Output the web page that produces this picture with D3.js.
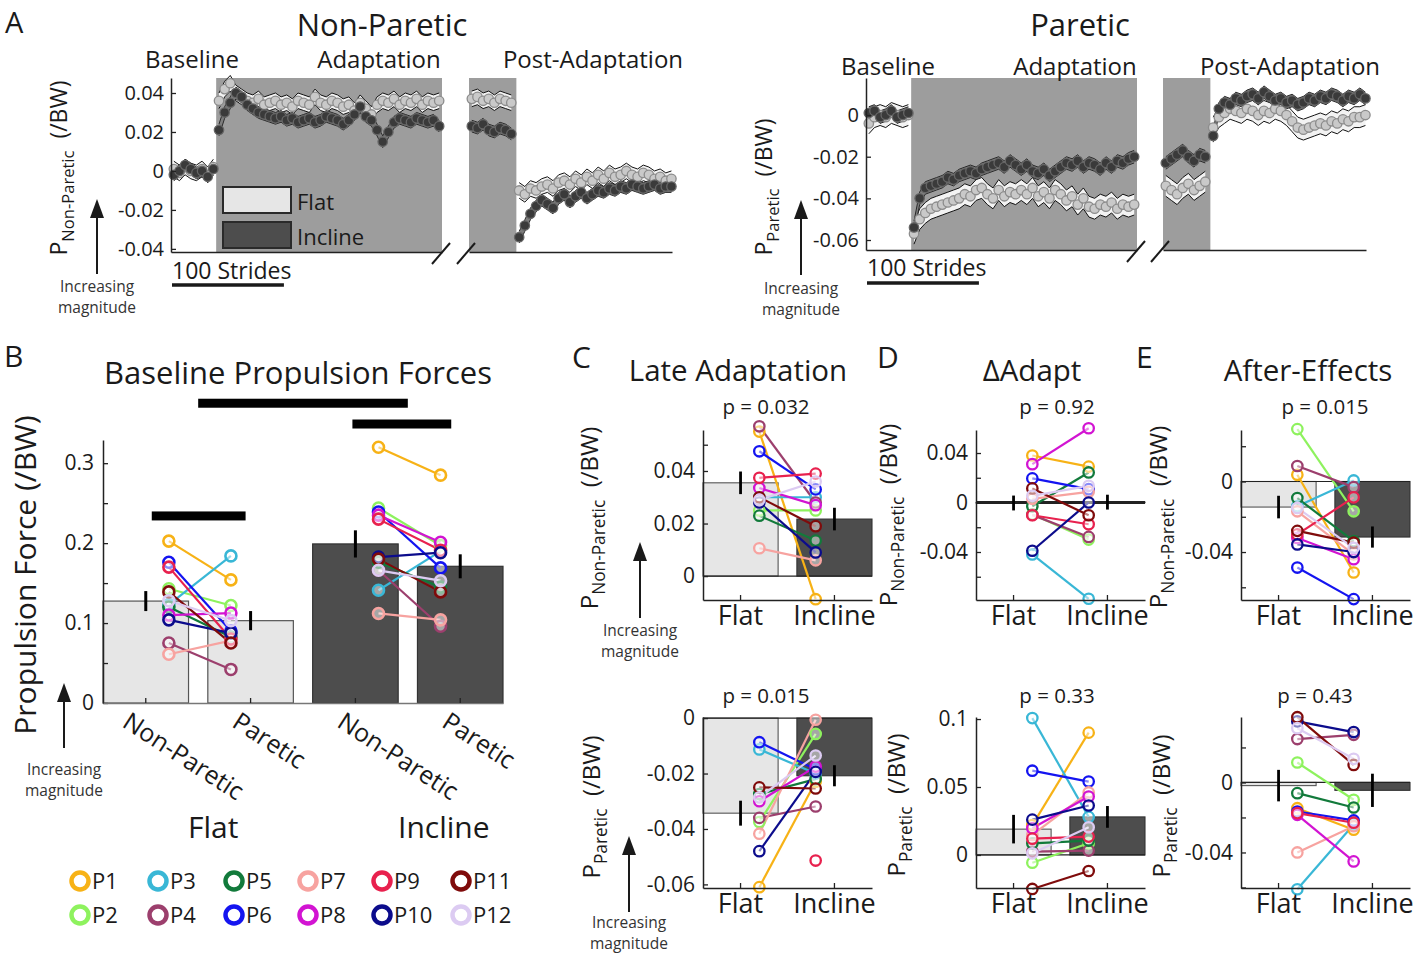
<!DOCTYPE html>
<html><head><meta charset="utf-8">
<script src="https://cdn.jsdelivr.net/npm/d3@7"></script>
<style>
body{margin:0;background:#fff;}
svg{display:block;font-family:"Open Sans",sans-serif;}
</style></head><body>
<svg id="chart" width="1418" height="955"></svg>
<script>
// ---------------- DATA ----------------
const participants = ["P1","P2","P3","P4","P5","P6","P7","P8","P9","P10","P11","P12"];
const participantColors = ["#f7b216","#8ef25e","#39b7d6","#9c3f6d","#127a3b","#1414f0","#f7a3a0","#d214d2","#e8214e","#0c0c8c","#7f0b0b","#dccbf2"];
const conditions = ["Flat","Incline"];
const phaseLabels = ["Baseline","Adaptation","Post-Adaptation"];

// Panel A: Non-Paretic time courses (every 5 strides)
const npBaselineFlat = [0.001,-0.001,0.002,0.000,-0.001,0.001,-0.002,0.002];
const npBaselineIncline = [-0.002,0.000,0.003,0.001,-0.001,0.000,-0.003,0.001];
const npAdaptFlat = [0.036,0.042,0.045,0.040,0.038,0.036,0.035,0.037,0.034,0.035,0.036,0.034,0.035,0.033,0.036,0.035,0.034,0.038,0.035,0.034,0.036,0.035,0.033,0.034,0.031,0.035,0.032,0.029,0.034,0.036,0.035,0.037,0.034,0.036,0.035,0.037,0.034,0.036,0.035,0.036];
const npAdaptIncline = [0.021,0.030,0.035,0.040,0.038,0.034,0.032,0.030,0.029,0.028,0.027,0.028,0.026,0.027,0.025,0.026,0.027,0.025,0.026,0.028,0.027,0.026,0.024,0.026,0.029,0.033,0.028,0.026,0.021,0.015,0.020,0.025,0.027,0.026,0.025,0.027,0.026,0.025,0.026,0.023];
const npLateFlat = [0.037,0.038,0.036,0.037,0.035,0.037,0.036,0.035];
const npLateIncline = [0.023,0.022,0.024,0.021,0.020,0.022,0.021,0.019];
const npPostFlat = [-0.010,-0.012,-0.009,-0.010,-0.008,-0.007,-0.009,-0.006,-0.005,-0.007,-0.004,-0.006,-0.003,-0.005,-0.002,-0.004,-0.001,-0.003,-0.002,0.000,-0.002,-0.003,-0.001,-0.002,-0.004,-0.003,-0.005,-0.004];
const npPostIncline = [-0.034,-0.028,-0.022,-0.018,-0.015,-0.017,-0.019,-0.014,-0.012,-0.016,-0.013,-0.011,-0.014,-0.012,-0.010,-0.011,-0.009,-0.010,-0.008,-0.009,-0.007,-0.008,-0.009,-0.008,-0.007,-0.009,-0.008,-0.008];
const npStdErr = [0.004, 0.003];
const npTicks = [-0.04,-0.02,0,0.02,0.04];

// Panel A: Paretic time courses
const pBaselineFlat = [-0.004,-0.001,0.000,-0.001,0.001,0.000,-0.001,0.000];
const pBaselineIncline = [0.001,0.002,-0.001,0.000,0.002,-0.001,0.000,0.001];
const pAdaptFlat = [-0.057,-0.050,-0.047,-0.045,-0.044,-0.043,-0.042,-0.041,-0.040,-0.038,-0.039,-0.036,-0.035,-0.038,-0.040,-0.036,-0.039,-0.037,-0.038,-0.036,-0.038,-0.035,-0.039,-0.037,-0.040,-0.036,-0.038,-0.041,-0.039,-0.043,-0.040,-0.044,-0.045,-0.043,-0.044,-0.042,-0.045,-0.043,-0.044,-0.043];
const pAdaptIncline = [-0.054,-0.040,-0.035,-0.034,-0.033,-0.032,-0.030,-0.031,-0.029,-0.028,-0.027,-0.028,-0.026,-0.025,-0.024,-0.023,-0.025,-0.022,-0.024,-0.026,-0.024,-0.027,-0.028,-0.026,-0.029,-0.027,-0.025,-0.023,-0.024,-0.022,-0.025,-0.023,-0.024,-0.026,-0.023,-0.025,-0.022,-0.023,-0.021,-0.020];
const pLateFlat = [-0.034,-0.036,-0.038,-0.035,-0.033,-0.036,-0.034,-0.032];
const pLateIncline = [-0.023,-0.021,-0.019,-0.017,-0.020,-0.022,-0.019,-0.020];
const pPostFlat = [-0.006,-0.001,0.001,0.003,0.002,0.001,0.003,0.002,0.000,0.002,0.001,0.003,0.002,0.000,-0.003,-0.006,-0.007,-0.006,-0.005,-0.004,-0.005,-0.003,-0.004,-0.002,-0.003,-0.001,-0.001,0.000];
const pPostIncline = [-0.010,0.003,0.006,0.005,0.008,0.007,0.009,0.010,0.008,0.011,0.009,0.007,0.008,0.006,0.007,0.005,0.006,0.008,0.007,0.009,0.008,0.010,0.009,0.007,0.009,0.008,0.010,0.008];
const pStdErr = [0.005, 0.003];
const pTicks = [-0.06,-0.04,-0.02,0];

// Panel B
const bBars = ["Flat Non-Paretic","Flat Paretic","Incline Non-Paretic","Incline Paretic"];
const bTickLabels = ["Non-Paretic","Paretic","Non-Paretic","Paretic"];
const bMeans = [0.1275,0.103,0.199,0.171];
const bErrors = [0.0125,0.012,0.017,0.015];
const bFlatNonParetic = [0.2025,0.143,0.123,0.075,0.120,0.176,0.061,0.110,0.170,0.104,0.139,0.128];
const bFlatParetic = [0.154,0.122,0.184,0.042,0.0825,0.090,0.078,0.1125,0.080,0.0875,0.075,0.103];
const bInclineNonParetic = [0.320,0.244,0.141,0.166,0.176,0.239,0.112,0.235,0.230,0.1825,0.180,0.166];
const bInclineParetic = [0.285,0.197,0.190,0.096,0.145,0.169,0.104,0.201,0.191,0.188,0.139,0.153];
const bTicks = [0,0.05,0.1,0.15,0.2,0.25,0.3];
const bLabeledTicks = [0,0.1,0.2,0.3];
const bSigLevels = [0.375,0.349,0.234];

// Panel C: Late Adaptation
const lateNPFlat = [0.055,0.025,0.030,0.057,0.023,0.0475,0.0106,0.0335,0.0374,0.028,0.030,0.029];
const lateNPIncline = [-0.0088,0.025,0.030,0.028,0.0135,0.033,0.006,0.027,0.039,0.009,0.019,0.036];
const lateNPMeans = [0.0355,0.0217];
const lateNPErr = [0.0043,0.0043];
const latePFlat = [-0.061,-0.0375,-0.0113,-0.036,-0.0274,-0.0087,-0.0417,-0.030,null,-0.048,-0.025,-0.0286];
const latePIncline = [-0.023,-0.0057,-0.020,-0.0319,-0.022,-0.0185,-0.0006,-0.0175,-0.0514,-0.0194,-0.0254,-0.0135];
const latePMeans = [-0.0343,-0.0208];
const latePErr = [0.0045,0.0038];

// Panel D: Delta Adapt
const dNPFlat = [0.038,-0.0095,-0.042,-0.010,-0.003,0.0195,0.003,0.031,-0.0103,-0.039,0.0114,0.0054];
const dNPIncline = [0.029,-0.030,-0.0778,-0.0278,0.0243,0.0108,0.0086,0.060,-0.0176,0.000,-0.0103,0.0135];
const dNPMeans = [-0.0004,0.0003];
const dNPErr = [0.006,0.006];
const dPFlat = [0.022,-0.0057,0.1007,0.0025,0.0086,0.062,0.0147,0.0197,0.012,0.026,-0.025,0.0012];
const dPIncline = [0.090,0.0086,0.028,0.0032,0.0106,0.054,0.046,0.043,0.0135,0.0364,-0.0118,0.0204];
const dPMeans = [0.019,0.028];
const dPErr = [0.0105,0.008];

// Panel E: After-Effects
const eNPFlat = [0.0038,0.0297,-0.014,0.0088,-0.0094,-0.0488,-0.0169,-0.032,-0.030,-0.0357,-0.028,-0.015];
const eNPIncline = [-0.0516,-0.0169,0.0006,-0.0032,-0.0338,-0.0667,-0.0413,-0.0441,-0.009,-0.040,-0.0347,-0.0376];
const eNPMeans = [-0.0145,-0.0315];
const eNPErr = [0.0064,0.006];
const ePFlat = [-0.0147,0.0114,-0.061,0.0248,-0.0061,-0.0166,-0.040,-0.0185,-0.0175,0.0349,0.0373,0.031];
const ePIncline = [-0.027,-0.0099,-0.024,0.0272,-0.0143,-0.0217,-0.025,-0.0451,-0.023,0.0288,0.010,0.0135];
const ePMeans = [-0.0018,-0.0045];
const ePErr = [0.009,0.0095];

// ---------------- DRAWING ----------------
const svg = d3.select("#chart");
const INK = "#1a1a1a";
const LIGHT = "#e6e6e6", DARK = "#4d4d4d";

function txt(x, y, s, size, anchor){
  return svg.append("text").attr("x",x).attr("y",y).attr("font-size",size)
    .attr("text-anchor",anchor||"start").attr("fill",INK).text(s);
}
function pLabel(x, y, sub, size){
  const t = svg.append("text").attr("transform",`translate(${x},${y}) rotate(-90)`)
    .attr("text-anchor","middle").attr("font-size",size).attr("fill",INK);
  t.append("tspan").text("P");
  t.append("tspan").attr("font-size",size*0.72).attr("dy",size*0.3).text(sub);
  t.append("tspan").attr("dy",-size*0.3).text("\u00a0\u00a0(/BW)");
}
function magArrow(x, yTip, yBase, ty){
  svg.append("line").attr("x1",x).attr("x2",x).attr("y1",yBase).attr("y2",yTip+12)
    .attr("stroke",INK).attr("stroke-width",2);
  svg.append("path").attr("d",`M${x},${yTip}L${x-7},${yTip+19}L${x+7},${yTip+19}Z`).attr("fill",INK);
  txt(x, ty, "Increasing", 15.5, "middle").attr("fill","#333");
  txt(x, ty+21, "magnitude", 15.5, "middle").attr("fill","#333");
}
function styleAxis(g, fs){
  g.attr("font-family",null).attr("font-size",fs);
  g.selectAll("path.domain").attr("stroke","#222").attr("stroke-width",1.5);
  g.selectAll(".tick line").attr("stroke","#222").attr("stroke-width",1.3);
  g.selectAll(".tick text").attr("fill",INK);
}

// ---- Panel A ----
function timePanel(o){
  const g = svg.append("g");
  const y = d3.scaleLinear().domain(o.yDomain).range([o.yBottom, o.yTop]);
  const x1 = d3.scaleLinear().domain([0,240]).range(o.seg1);
  const x2 = d3.scaleLinear().domain([0,180]).range(o.seg2);
  const H = o.yBottom - o.yTop;
  g.append("rect").attr("x",x1(40)).attr("y",o.yTop).attr("width",x1(240)-x1(40)).attr("height",H).attr("fill","#9d9d9d");
  g.append("rect").attr("x",x2(0)).attr("y",o.yTop).attr("width",x2(42)-x2(0)).attr("height",H).attr("fill","#9d9d9d");
  const segs = [
    {x:x1, s0:2.5, f:o.baseFlat, i:o.baseIncl},
    {x:x1, s0:42.5, f:o.adaptFlat, i:o.adaptIncl},
    {x:x2, s0:2.5, f:o.lateFlat, i:o.lateIncl},
    {x:x2, s0:44.5, f:o.postFlat, i:o.postIncl}];
  const styles = [
    {key:"f", se:o.se[0], band:"#f3f3f3", edge:"#111", fill:"#c9c9c9", stroke:"#8c8c8c"},
    {key:"i", se:o.se[1], band:"#7d7d7d", edge:"#2a2a2a", fill:"#3a3a3a", stroke:"#666"}];
  styles.forEach(st=>{
    segs.forEach(sg=>{
      const pts = sg[st.key].map((v,k)=>({s:sg.s0+5*k, v}));
      const area = d3.area().x(d=>sg.x(d.s)).y0(d=>y(d.v-st.se)).y1(d=>y(d.v+st.se));
      g.append("path").attr("d",area(pts)).attr("fill",st.band);
      const lU = d3.line().x(d=>sg.x(d.s)).y(d=>y(d.v+st.se));
      const lL = d3.line().x(d=>sg.x(d.s)).y(d=>y(d.v-st.se));
      g.append("path").attr("d",lU(pts)).attr("fill","none").attr("stroke",st.edge).attr("stroke-width",1);
      g.append("path").attr("d",lL(pts)).attr("fill","none").attr("stroke",st.edge).attr("stroke-width",1);
    });
  });
  styles.forEach(st=>{
    segs.forEach(sg=>{
      const pts = sg[st.key].map((v,k)=>({s:sg.s0+5*k, v}));
      g.append("g").selectAll("circle").data(pts).join("circle")
        .attr("cx",d=>sg.x(d.s)).attr("cy",d=>y(d.v)).attr("r",4.7)
        .attr("fill",st.fill).attr("stroke",st.stroke).attr("stroke-width",1.3);
    });
  });
  const ya = g.append("g").attr("transform",`translate(${o.seg1[0]},0)`)
    .call(d3.axisLeft(y).tickValues(o.ticks).tickFormat(d=>String(d)).tickSizeInner(-5).tickSizeOuter(0).tickPadding(7));
  styleAxis(ya, 20);
  const xa1 = g.append("g").attr("transform",`translate(0,${o.yBottom})`).call(d3.axisBottom(x1).tickValues([]).tickSizeOuter(0));
  const xa2 = g.append("g").attr("transform",`translate(0,${o.yBottom})`).call(d3.axisBottom(x2).tickValues([]).tickSizeOuter(0));
  styleAxis(xa1,20); styleAxis(xa2,20);
  [[x1(240)-10, x1(240)+8],[x2(0)-12, x2(0)+6]].forEach(([a,b])=>{
    g.append("line").attr("x1",a).attr("y1",o.yBottom+12).attr("x2",b).attr("y2",o.yBottom-9)
      .attr("stroke",INK).attr("stroke-width",2);
  });
  g.append("line").attr("x1",x1(0)+1).attr("x2",x1(100)).attr("y1",o.yBottom+o.barDy).attr("y2",o.yBottom+o.barDy)
    .attr("stroke",INK).attr("stroke-width",3.5);
  txt(x1(0)+1, o.yBottom+o.textDy, "100 Strides", 23);
  phaseLabels.forEach((p,i)=> txt(o.phaseX[i], o.phaseY, p, 24, "middle"));
  txt(o.titleX, 36, o.title, 31, "middle");
}

timePanel({yDomain:[-0.0416,0.0477], yTop:78, yBottom:252, seg1:[171,442], seg2:[469,672],
  baseFlat:npBaselineFlat, baseIncl:npBaselineIncline, adaptFlat:npAdaptFlat, adaptIncl:npAdaptIncline,
  lateFlat:npLateFlat, lateIncl:npLateIncline, postFlat:npPostFlat, postIncl:npPostIncline,
  se:npStdErr, ticks:npTicks, barDy:33, textDy:27, phaseX:[192,379,593], phaseY:68,
  title:"Non-Paretic", titleX:382});
timePanel({yDomain:[-0.0648,0.0178], yTop:78, yBottom:250, seg1:[866,1137], seg2:[1163,1366],
  baseFlat:pBaselineFlat, baseIncl:pBaselineIncline, adaptFlat:pAdaptFlat, adaptIncl:pAdaptIncline,
  lateFlat:pLateFlat, lateIncl:pLateIncline, postFlat:pPostFlat, postIncl:pPostIncline,
  se:pStdErr, ticks:pTicks, barDy:33, textDy:26, phaseX:[888,1075,1290], phaseY:75,
  title:"Paretic", titleX:1080});

conditions.forEach((c,i)=>{
  svg.append("rect").attr("x",223).attr("y",187+i*35).attr("width",68).attr("height",26)
    .attr("fill",i?DARK:LIGHT).attr("stroke","#2a2a2a").attr("stroke-width",2);
  txt(297, 210+i*35, c, 22);
});
txt(5, 33, "A", 29);
pLabel(67, 168, "Non-Paretic", 23);
pLabel(772, 187, "Paretic", 23);
magArrow(97, 199, 274, 292);
magArrow(801, 200, 275, 294);

// ---- Panel B ----
(function(){
  const y = d3.scaleLinear().domain([0,0.329]).range([703,440]);
  const x = d3.scaleBand().domain(bBars).range([103,503]).paddingInner(0.184);
  const bw = x.bandwidth();
  const g = svg.append("g");
  g.selectAll("rect").data(bMeans).join("rect")
    .attr("x",(d,i)=>x(bBars[i])).attr("width",bw).attr("y",d=>y(d)).attr("height",d=>y(0)-y(d))
    .attr("fill",(d,i)=>i<2?LIGHT:DARK).attr("stroke",(d,i)=>i<2?"#555":"#333").attr("stroke-width",1.2);
  const cx = i => x(bBars[i]) + bw/2;
  g.selectAll("line.err").data(bMeans).join("line").attr("class","err")
    .attr("x1",(d,i)=>cx(i)).attr("x2",(d,i)=>cx(i))
    .attr("y1",(d,i)=>y(d-bErrors[i])).attr("y2",(d,i)=>y(d+bErrors[i]))
    .attr("stroke","#000").attr("stroke-width",3);
  const px = i => x(bBars[i]) + bw*(i%2===0?0.77:0.27);
  const sets = [bFlatNonParetic,bFlatParetic,bInclineNonParetic,bInclineParetic];
  [[0,1],[2,3]].forEach(([a,b])=>{
    participants.forEach((p,k)=>{
      g.append("line").attr("x1",px(a)).attr("y1",y(sets[a][k])).attr("x2",px(b)).attr("y2",y(sets[b][k]))
        .attr("stroke",participantColors[k]).attr("stroke-width",2.2);
    });
  });
  sets.forEach((arr,i)=>{
    g.append("g").selectAll("circle").data(arr).join("circle")
      .attr("cx",px(i)).attr("cy",d=>y(d)).attr("r",5.5)
      .attr("fill","#fff").attr("fill-opacity",0.5)
      .attr("stroke",(d,k)=>participantColors[k]).attr("stroke-width",2.6);
  });
  const sig = [[ (cx(0)+cx(1))/2, (cx(2)+cx(3))/2 ], [cx(2)-3, cx(3)-9], [cx(0)+6, cx(1)-5]];
  sig.forEach(([a,b],i)=>{
    g.append("rect").attr("x",a).attr("width",b-a).attr("y",y(bSigLevels[i])-4.5).attr("height",9).attr("fill","#000");
  });
  const ya = g.append("g").attr("transform","translate(103,0)")
    .call(d3.axisLeft(y).tickValues(bTicks).tickFormat(d=>bLabeledTicks.includes(d)?String(d):"")
      .tickSizeInner(-5).tickSizeOuter(0).tickPadding(9));
  styleAxis(ya, 21);
  const xa = g.append("g").attr("transform","translate(0,703)")
    .call(d3.axisBottom(x).tickFormat("").tickSizeInner(-5).tickSizeOuter(0));
  styleAxis(xa, 21);
  xa.selectAll("path.domain").attr("stroke","#777");
  bTickLabels.forEach((s,i)=>{
    svg.append("text").attr("transform",`translate(${cx(i)-(i===0?13:8)},708) rotate(33)`)
      .attr("font-size",25).attr("fill",INK).attr("dominant-baseline","hanging").text(s);
  });
  txt((x(bBars[0])+x(bBars[1])+bw)/2+15, 838, "Flat", 30, "middle");
  txt((x(bBars[2])+x(bBars[3])+bw)/2+36, 838, "Incline", 30, "middle");
  txt(298, 384, "Baseline Propulsion Forces", 31, "middle");
  svg.append("text").attr("transform","translate(36,575) rotate(-90)").attr("text-anchor","middle")
    .attr("font-size",30).attr("fill",INK).text("Propulsion Force (/BW)");
})();
txt(4, 367, "B", 30);
magArrow(64, 683, 748, 775);

participants.forEach((p,k)=>{
  const colX = [80,158,234,308,382,461][Math.floor(k/2)];
  const rowY = (k%2===0) ? 881 : 915;
  svg.append("circle").attr("cx",colX).attr("cy",rowY).attr("r",8.5).attr("fill","#fff")
    .attr("stroke",participantColors[k]).attr("stroke-width",4.5);
  txt(colX+12, rowY+8, p, 22);
});

// ---- Panels C, D, E ----
function miniPanel(o){
  const y = d3.scaleLinear().domain(o.domain).range([o.yBot,o.yTop]);
  const x = d3.scaleBand().domain(conditions).range([o.ax,o.ax+169]).paddingInner(0.2);
  const bw = x.bandwidth();
  const g = svg.append("g");
  g.selectAll("rect").data(o.means).join("rect")
    .attr("x",(d,i)=>x(conditions[i])).attr("width",bw)
    .attr("y",d=>Math.min(y(0),y(d))).attr("height",d=>Math.max(Math.abs(y(d)-y(0)),0.5))
    .attr("fill",(d,i)=>i?DARK:LIGHT).attr("stroke",(d,i)=>i?"#333":"#555").attr("stroke-width",1.1);
  g.append("line").attr("x1",o.ax).attr("x2",o.ax+169).attr("y1",y(0)).attr("y2",y(0))
    .attr("stroke","#222").attr("stroke-width",o.zeroW||1.2);
  g.selectAll("line.err").data(o.means).join("line").attr("class","err")
    .attr("x1",(d,i)=>x(conditions[i])+bw/2).attr("x2",(d,i)=>x(conditions[i])+bw/2)
    .attr("y1",(d,i)=>y(d-o.err[i])).attr("y2",(d,i)=>y(d+o.err[i]))
    .attr("stroke","#000").attr("stroke-width",2.8);
  const xf = x("Flat")+bw*0.75, xi = x("Incline")+bw*0.25;
  participants.forEach((p,k)=>{
    if(o.flat[k]!=null && o.incl[k]!=null)
      g.append("line").attr("x1",xf).attr("y1",y(o.flat[k])).attr("x2",xi).attr("y2",y(o.incl[k]))
        .attr("stroke",participantColors[k]).attr("stroke-width",2.2);
  });
  [[o.flat,xf],[o.incl,xi]].forEach(([arr,xx])=>{
    const pts = arr.map((v,k)=>({v,k})).filter(d=>d.v!=null);
    g.append("g").selectAll("circle").data(pts).join("circle")
      .attr("cx",xx).attr("cy",d=>y(d.v)).attr("r",5.2)
      .attr("fill","#fff").attr("fill-opacity",0.5)
      .attr("stroke",d=>participantColors[d.k]).attr("stroke-width",2.3);
  });
  const ya = g.append("g").attr("transform",`translate(${o.ax},0)`)
    .call(d3.axisLeft(y).tickValues(o.ticks).tickFormat(d=>o.labels.includes(d)?String(d):"")
      .tickSizeInner(-5).tickSizeOuter(0).tickPadding(8));
  styleAxis(ya, 21);
  const xa = g.append("g").attr("transform",`translate(0,${o.yBot})`)
    .call(d3.axisBottom(x).tickSizeInner(-5).tickSizeOuter(0).tickPadding(6));
  styleAxis(xa, 27);
  txt(o.ax + (o.pDx||63), o.pY, o.p, 20.5, "middle");
}

miniPanel({ax:703, yTop:430, yBot:600, domain:[-0.0091,0.0556], ticks:[0,0.02,0.04,0.05], labels:[0,0.02,0.04],
  flat:lateNPFlat, incl:lateNPIncline, means:lateNPMeans, err:lateNPErr, p:"p = 0.032", pY:414});
miniPanel({ax:703, yTop:717, yBot:888, domain:[-0.0613,0.0004], ticks:[-0.06,-0.04,-0.02,0], labels:[-0.06,-0.04,-0.02,0],
  flat:latePFlat, incl:latePIncline, means:latePMeans, err:latePErr, p:"p = 0.015", pY:703});
miniPanel({ax:976, yTop:430, yBot:600, domain:[-0.0788,0.0586], ticks:[-0.06,-0.04,-0.02,0,0.02,0.04], labels:[-0.04,0,0.04],
  flat:dNPFlat, incl:dNPIncline, means:dNPMeans, err:dNPErr, p:"p = 0.92", pY:414, pDx:81, zeroW:3});
miniPanel({ax:976, yTop:717, yBot:888, domain:[-0.0243,0.1015], ticks:[0,0.05,0.1], labels:[0,0.05,0.1],
  flat:dPFlat, incl:dPIncline, means:dPMeans, err:dPErr, p:"p = 0.33", pY:703, pDx:81});
miniPanel({ax:1241, yTop:430, yBot:600, domain:[-0.0672,0.0292], ticks:[-0.06,-0.04,-0.02,0,0.02], labels:[-0.04,0],
  flat:eNPFlat, incl:eNPIncline, means:eNPMeans, err:eNPErr, p:"p = 0.015", pY:414, pDx:84});
miniPanel({ax:1241, yTop:717, yBot:888, domain:[-0.0603,0.0374], ticks:[-0.06,-0.04,-0.02,0,0.02], labels:[-0.04,0],
  flat:ePFlat, incl:ePIncline, means:ePMeans, err:ePErr, p:"p = 0.43", pY:703, pDx:74});

txt(572, 368, "C", 30); txt(877, 368, "D", 30); txt(1136, 368, "E", 30);
txt(738, 381, "Late Adaptation", 29.5, "middle");
txt(1032, 381, "\u0394Adapt", 29.5, "middle");
txt(1308, 381, "After-Effects", 29.5, "middle");
pLabel(598, 518, "Non-Paretic", 24);
pLabel(600, 807, "Paretic", 24);
pLabel(897, 515, "Non-Paretic", 24);
pLabel(905, 805, "Paretic", 24);
pLabel(1167, 517, "Non-Paretic", 24);
pLabel(1170, 806, "Paretic", 24);
magArrow(640, 542, 618, 636);
magArrow(629, 836, 912, 928);
</script>
</body></html>
